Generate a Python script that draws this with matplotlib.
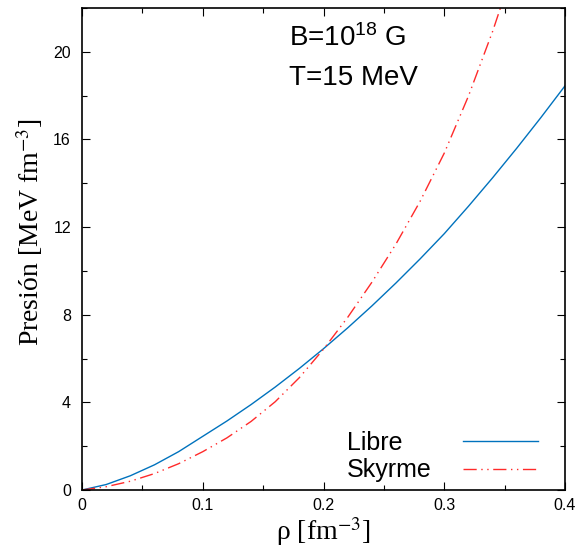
import numpy as np
import matplotlib
matplotlib.use('Agg')
import matplotlib.pyplot as plt
from matplotlib.lines import Line2D
from matplotlib.ticker import MultipleLocator, FormatStrFormatter

# densidad (fm^-3)
rho = [0.0, 0.02, 0.04, 0.06, 0.08, 0.10, 0.12, 0.14, 0.16, 0.18, 0.20,
       0.22, 0.24, 0.26, 0.28, 0.30, 0.32, 0.34, 0.36, 0.38, 0.40]

# presion gas libre
p_libre = [0.0, 0.25, 0.65, 1.15, 1.75, 2.45, 3.15, 3.9, 4.7, 5.55, 6.45,
           7.4, 8.4, 9.45, 10.55, 11.7, 12.95, 14.25, 15.6, 17.0, 18.45]

# presion Skyrme
rho_sky = [0.0, 0.02, 0.04, 0.06, 0.08, 0.10, 0.12, 0.14, 0.16, 0.18, 0.20,
           0.22, 0.24, 0.26, 0.28, 0.30, 0.32, 0.34, 0.36]
p_skyrme = [0.0, 0.15, 0.4, 0.75, 1.2, 1.75, 2.38, 3.13, 4.03, 5.13, 6.43,
            7.88, 9.48, 11.23, 13.18, 15.38, 17.98, 20.93, 24.23]

etiquetas = ['Libre', 'Skyrme']

plt.rcParams['mathtext.fontset'] = 'custom'
plt.rcParams['mathtext.rm'] = 'Liberation Sans'
plt.rcParams['mathtext.it'] = 'Liberation Sans'

fig = plt.figure(figsize=(5.76, 5.51), dpi=100)
ax = fig.add_axes([0.1424, 0.1107, 0.981 - 0.1424, 0.9855 - 0.1107])

estilo_sky = (0, (9.5, 3.3, 1, 3.3, 1, 3.3))
l1, = ax.plot(rho, p_libre, color='#0072bd', lw=1.0)
l2, = ax.plot(rho_sky, p_skyrme, color='#ff2a2a', lw=1.0, linestyle=estilo_sky)

ax.set_xlim(0, 0.4)
ax.set_ylim(0, 22)
ax.xaxis.set_major_locator(MultipleLocator(0.1))
ax.xaxis.set_minor_locator(MultipleLocator(0.05))
ax.yaxis.set_major_locator(MultipleLocator(4))
ax.yaxis.set_minor_locator(MultipleLocator(2))
ax.xaxis.set_major_formatter(FormatStrFormatter('%g'))
ax.tick_params(which='both', direction='in', top=True, right=True,
               labelsize=11.5, width=0.8)
ax.tick_params(which='major', length=6)
ax.tick_params(which='minor', length=3.5)
ax.tick_params(axis='x', which='major', pad=6)
ax.tick_params(axis='y', which='major', pad=8)
for lab in ax.get_xticklabels() + ax.get_yticklabels():
    lab.set_family('Liberation Sans')
for s in ax.spines.values():
    s.set_linewidth(1.2)

ax.set_xlabel(r'ρ [fm$^{-3}$]', family='Liberation Serif', fontsize=20,
              math_fontfamily='stix', labelpad=1)
ax.set_ylabel(r'Presión [MeV fm$^{-3}$]', family='Liberation Serif',
              fontsize=20, math_fontfamily='stix')
ax.yaxis.set_label_coords(-0.077, 0.535)

ax.text(0.171, 20.27, r'B=10$^{18}$ G', family='Liberation Sans', fontsize=20,
        va='baseline', ha='left')
ax.text(0.171, 18.5, 'T=15 MeV', family='Liberation Sans', fontsize=20,
        va='baseline', ha='left')

# leyenda al estilo gnuplot (texto alineado a la izquierda, muestra a la derecha)
for linea, texto, y_lin, y_txt in zip([l1, l2], etiquetas, [0.1017, 0.0436], [0.083, 0.027]):
    muestra = Line2D([0.789, 0.944], [y_lin, y_lin], transform=ax.transAxes)
    muestra.update_from(linea)
    muestra.set_transform(ax.transAxes)
    ax.add_line(muestra)
    ax.text(0.5487, y_txt, texto, transform=ax.transAxes, family='Liberation Sans',
            fontsize=18, va='baseline', ha='left')

fig.savefig('out.png', dpi=100)
